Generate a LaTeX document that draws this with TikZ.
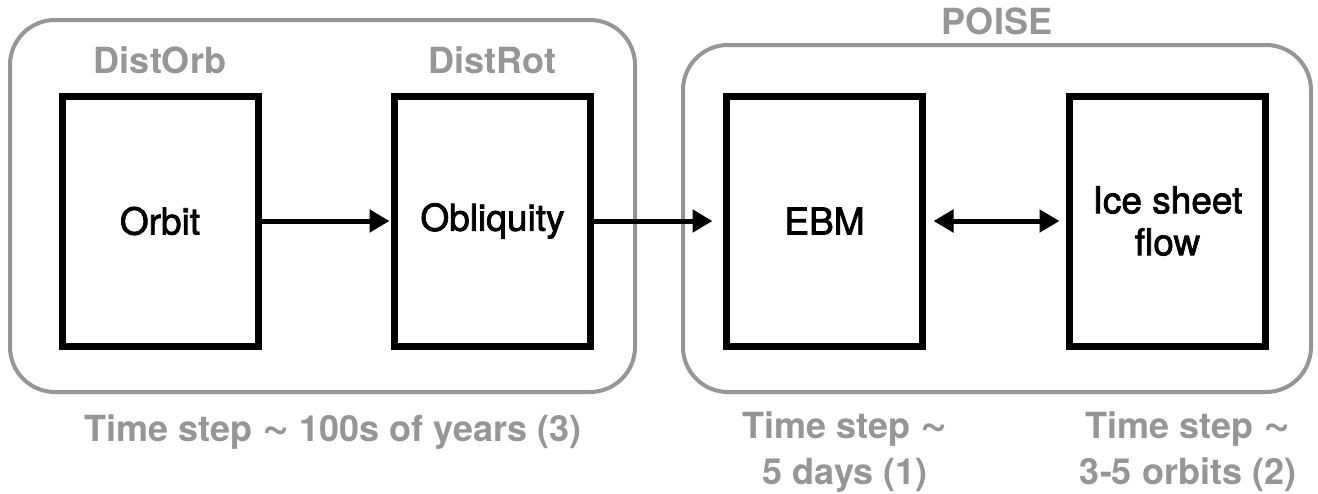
\documentclass[tikz,border=0pt]{standalone}
\usepackage{fontspec}
\setmainfont{TeX Gyre Heros}
\usetikzlibrary{arrows.meta}
\definecolor{lgray}{HTML}{969696}
\newcommand{\mytilde}{\scalebox{1.3}{\textasciitilde}}
\begin{document}
\begin{tikzpicture}[x=1pt,y=-1pt,
  blk/.style={draw=black,line width=7pt,minimum width=196pt,minimum height=250pt,outer sep=0pt,inner sep=0pt,align=center,font=\fontsize{37}{42}\selectfont\addfontfeatures{FakeBold=2}},
  grp/.style={draw=lgray,line width=4pt,rounded corners=45pt,inner sep=0pt,outer sep=0pt},
  glabel/.style={text=lgray,align=center,inner sep=0pt,font=\fontsize{36}{46}\selectfont\bfseries},
  conn/.style={line width=5pt,-{Triangle[length=20pt,width=22pt]}},
  dconn/.style={line width=5pt,{Triangle[length=20pt,width=22pt]}-{Triangle[length=20pt,width=22pt]}}
]
\useasboundingbox (0,0) rectangle (1318,493);
\node[grp,minimum width=625pt,minimum height=372pt] (gL) at (322.5,206) {};
\node[grp,minimum width=628pt,minimum height=347pt] (gR) at (997,218.5) {};

\node[blk] (orbit) at (160,221) {Orbit};
\node[blk] (obliq) at (492.5,221) {Obliquity};
\node[blk] (ebm) at (824.5,221) {EBM};
\node[blk] (ice) at (1167.5,221) {Ice sheet\\flow};

\node[glabel] (distorb) at (160,60) {DistOrb};
\node[glabel] (distrot) at (492.5,60) {DistRot};
\node[glabel] (poise) at (997,21) {POISE};

\node[glabel] (tsL) at (333,432) {Time step \mytilde\ 100s of years (3)};
\node[glabel] (tsE) at (845,452) {Time step \mytilde\\5 days (1)};
\node[glabel] (tsI) at (1188,452) {Time step \mytilde\\3-5 orbits (2)};

\draw[conn,shorten >=5pt] (orbit.east) -- (obliq.west);
\draw[conn,shorten >=14pt] (obliq.east) -- (ebm.west);
\draw[dconn,shorten <=11pt,shorten >=10pt] (ebm.east) -- (ice.west);
\end{tikzpicture}
\end{document}
